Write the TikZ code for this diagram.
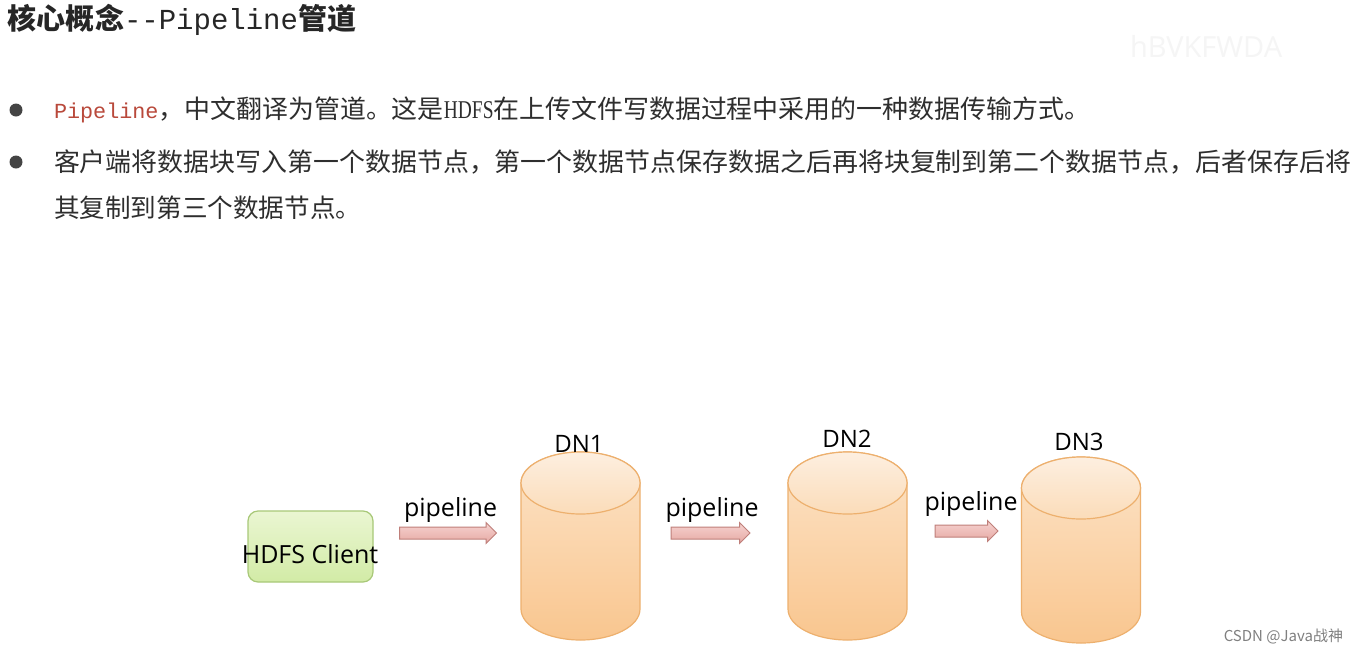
\documentclass[tikz,border=0pt]{standalone}
\usepackage{fontspec}
\usepackage{graphicx}
\usetikzlibrary{shapes.arrows}
\newfontfamily\cjk{Noto Sans CJK SC}
\newfontfamily\monofnt{Liberation Mono}
\newfontfamily\osans{Open Sans}
\newfontfamily\hdfsfnt[FakeStretch=0.75]{Liberation Serif}
\definecolor{txt}{HTML}{2E2E2E}
\definecolor{pipered}{HTML}{B9493B}
\definecolor{dotc}{HTML}{444444}
\definecolor{clientEdge}{HTML}{A8C878}
\definecolor{clientTop}{HTML}{EAF6D2}
\definecolor{clientBot}{HTML}{D2EBA6}
\definecolor{arrowEdge}{HTML}{BF7F7A}
\definecolor{arrowTop}{HTML}{F6D4D1}
\definecolor{arrowBot}{HTML}{E6A8A3}
\definecolor{cylEdge}{HTML}{EDB06E}
\definecolor{cylBodyTop}{HTML}{FCE3C7}
\definecolor{cylBodyBot}{HTML}{F9C68F}
\definecolor{cylCapTop}{HTML}{FDEFE0}
\definecolor{cylCapBot}{HTML}{FBDCB9}
\newcommand\cylinderdn[4]{% name, cx, ytop, ybottom
  \node[cylnode, minimum height={(#4-#3)*1pt}] (#1) at (#2,{(#3+#4)/2}) {};
  \shade[cylbody] ([yshift=-31pt]#1.north west) -- ([yshift=31pt]#1.south west)
     arc[start angle=180,end angle=360,x radius=59.5pt,y radius=31pt]
     -- ([yshift=-31pt]#1.north east)
     arc[start angle=0,end angle=180,x radius=59.5pt,y radius=31pt] -- cycle;
  \shade[cylcap] ([yshift=-31pt]#1.north) ellipse[x radius=59.5pt,y radius=31pt];
}
\begin{document}
\begin{tikzpicture}[x=1pt,y=-1pt,
  every node/.style={inner sep=0pt, outer sep=0pt},
  bodytext/.style={anchor=base west, text=txt},
  bulletdot/.style={circle, fill=dotc, minimum size=13pt},
  lbl/.style={anchor=base, text=black, font=\osans\fontsize{25pt}{30pt}\selectfont},
  client/.style={rectangle, rounded corners=10pt, draw=clientEdge, line width=1.2pt,
    top color=clientTop, bottom color=clientBot, minimum width=125pt, minimum height=71pt},
  pipe/.style={single arrow, single arrow head extend=4.5pt, single arrow tip angle=90,
    inner xsep=0pt, inner ysep=5.5pt, draw=arrowEdge, line width=1pt,
    top color=arrowTop, bottom color=arrowBot},
  cylnode/.style={minimum width=119pt},
  cylbody/.style={top color=cylBodyTop, bottom color=cylBodyBot, draw=cylEdge, line width=1.2pt},
  cylcap/.style={top color=cylCapTop, bottom color=cylCapBot, draw=cylEdge, line width=1.2pt},
]
\useasboundingbox (0,0) rectangle (1357,654);
\fill[white] (0,0) rectangle (1357,654);

% faint watermark
\node[anchor=base west, text=black!4, font=\osans\fontsize{29pt}{32pt}\selectfont] (wm) at (1130,57) {hBVKFWDA};

% title
\node[bodytext, text=black!85] (title) at (8,29)
  {\fontsize{29pt}{34pt}\selectfont\cjk\bfseries 核心概念{\monofnt\mdseries --Pipeline}管道};

% bullets
\node[bulletdot] (d1) at (16,110) {};
\node[bulletdot] (d2) at (16,162) {};
\node[bodytext] (b1) at (54,118)
  {\resizebox{1036pt}{\height}{{\monofnt\fontsize{21.5pt}{30pt}\selectfont\color{pipered}Pipeline}\cjk\fontsize{25.6pt}{30pt}\selectfont ，中文翻译为管道。这是{\hdfsfnt HDFS}在上传文件写数据过程中采用的一种数据传输方式。}};
\node[bodytext] (b2a) at (54,171)
  {\resizebox{1297pt}{\height}{\cjk\fontsize{25.6pt}{30pt}\selectfont 客户端将数据块写入第一个数据节点，第一个数据节点保存数据之后再将块复制到第二个数据节点，后者保存后将}};
\node[bodytext] (b2b) at (54,217)
  {\cjk\fontsize{25.6pt}{30pt}\selectfont 其复制到第三个数据节点。};

% client
\node[client] (client) at (310.5,546.5) {};
\node[lbl] (clientlbl) at (310,563) {HDFS Client};

% cylinders
\cylinderdn{dn1}{580.5}{452}{640}
\cylinderdn{dn2}{847.5}{452}{640}
\cylinderdn{dn3}{1081}{457}{643}
\node[lbl, font=\osans\fontsize{24pt}{28pt}\selectfont] (dn1lbl) at (579,452) {DN1};
\node[lbl, font=\osans\fontsize{24pt}{28pt}\selectfont] (dn2lbl) at (847,447) {DN2};
\node[lbl, font=\osans\fontsize{24pt}{28pt}\selectfont] (dn3lbl) at (1079,450) {DN3};

% pipeline arrows
\node[pipe, minimum height=97pt] (p1) at (445,533) {};
\node[pipe, minimum height=79pt] (p2) at (707.5,533) {};
\node[pipe, minimum height=63pt] (p3) at (963.5,531) {};
\node[lbl] (p1lbl) at (450.5,516) {pipeline};
\node[lbl] (p2lbl) at (712,516) {pipeline};
\node[lbl] (p3lbl) at (971,510) {pipeline};

% credit
\node[anchor=base east, text=black!50, font=\cjk\fontsize{15pt}{17pt}\selectfont] (csdn) at (1343,641) {CSDN @Java战神};
\end{tikzpicture}
\end{document}
